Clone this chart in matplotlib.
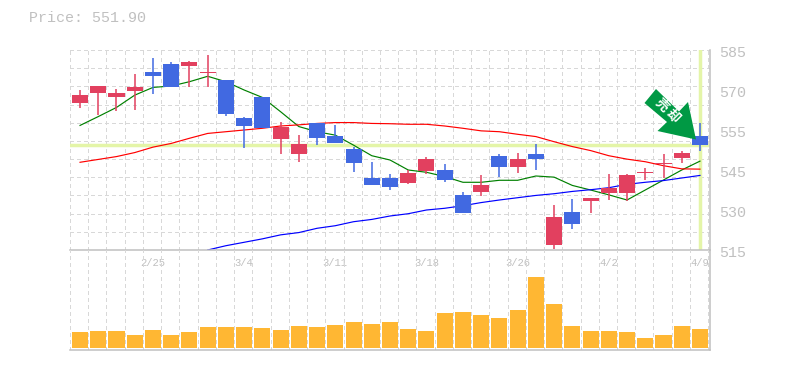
import matplotlib
matplotlib.use('Agg')
import matplotlib.pyplot as plt
import numpy as np
from matplotlib.patches import Polygon
from matplotlib.transforms import Affine2D

# Candles
opens = [566.4, 570.0, 568.5, 570.6, 577.3, 580.1, 579.4, 576.9, 574.5, 561.2, 568.5, 553.8,
         548.6, 559.4, 554.9, 550.3, 540.2, 540.2, 538.4, 542.6, 543.0, 534.2, 535.3, 547.9,
         544.0, 548.6, 516.8, 528.3, 532.2, 535.0, 535.0, 541.9, 545.1, 547.2, 554.9]
closes = [569.2, 572.4, 570.0, 572.0, 575.9, 572.0, 580.8, 577.3, 562.6, 558.4, 557.7, 558.0,
          552.1, 554.2, 552.4, 545.4, 537.8, 537.0, 541.9, 546.8, 539.5, 527.9, 537.8, 544.0,
          546.8, 546.8, 526.6, 524.1, 533.2, 536.7, 541.2, 542.3, 545.4, 549.0, 551.9]
highs = [571.0, 572.4, 571.3, 576.6, 582.2, 580.8, 581.1, 583.2, 574.5, 561.5, 568.5, 559.8,
         555.2, 559.4, 558.8, 551.0, 545.8, 541.6, 543.0, 547.5, 545.1, 535.3, 541.2, 548.6,
         549.0, 552.1, 530.8, 532.8, 533.2, 541.6, 541.6, 543.7, 548.6, 549.6, 559.4]
lows = [564.7, 562.1, 563.6, 564.0, 569.6, 572.0, 572.0, 572.0, 561.9, 550.7, 557.7, 548.6,
        545.8, 551.8, 552.4, 542.3, 537.8, 536.0, 538.1, 541.6, 538.8, 527.9, 533.9, 540.5,
        541.9, 543.0, 515.3, 522.3, 527.9, 532.5, 532.1, 539.5, 540.2, 545.4, 549.6]

# Moving averages
ma_short = [558.6, 561.7, 564.9, 569.2, 571.9, 572.4, 573.9, 575.8, 573.9, 571.0, 568.4, 563.4,
            558.2, 556.4, 555.2, 551.7, 548.0, 546.5, 543.0, 542.2, 540.7, 538.7, 538.7, 539.4,
            539.4, 540.9, 540.5, 537.6, 536.0, 534.3, 532.5, 536.0, 539.5, 543.0, 546.1]
ma_mid = [545.7, 546.7, 547.7, 549.1, 551.0, 552.3, 554.1, 555.8, 556.4, 557.0, 557.6, 558.4,
          558.8, 559.3, 559.6, 559.6, 559.3, 559.2, 559.0, 559.0, 558.4, 557.6, 556.7, 556.4,
          555.5, 554.7, 552.9, 551.2, 549.8, 548.0, 546.8, 545.9, 544.5, 543.4, 543.3]
ma_long = [515.0, 516.5, 517.7, 518.9, 520.3, 521.1, 522.6, 523.5, 524.9, 525.7, 526.9, 527.7,
           529.0, 529.6, 530.5, 531.6, 532.5, 533.3, 534.1, 534.7, 535.5, 536.1, 536.8, 538.0,
           538.7, 539.3, 540.2, 541.1]
ma_long_start = 7

volume = [15.7, 16.7, 16.7, 12.7, 17.7, 12.7, 15.7, 20.7, 20.7, 20.7, 19.7, 17.7, 21.7, 20.7,
          22.7, 25.7, 23.7, 25.7, 19, 17, 35, 36, 33, 30, 38, 71, 44, 22, 17, 17, 16, 10, 13, 22, 19]

price_now = 551.9
date_pos = [4, 9, 14, 19, 24, 29, 34]
date_labels = ['2/25', '3/4', '3/11', '3/18', '3/26', '4/2', '4/9']
price_pos = [515, 529, 543, 557, 571, 585]
price_labels = ['515', '530', '545', '555', '570', '585']

W, H = 785, 370
GRAY = '#c0c0c0'
GRID = '#d8d8d8'
HILITE = '#e4f5a8'
RED = '#e2405f'
BLUE = '#4169e1'
MONO = 'Liberation Mono'

fig = plt.figure(figsize=(W / 100, H / 100), dpi=100, facecolor='white')
ax = fig.add_axes([70 / W, 1 - 250 / H, 640 / W, 200 / H])
axv = fig.add_axes([70 / W, 1 - 350 / H, 640 / W, 100 / H])

x = np.arange(len(opens))
grid_x = np.arange(36) - 0.55

for a in (ax, axv):
    a.set_xlim(-0.55, 34.55)
    a.set_xticks(grid_x, minor=True)
    a.tick_params(which='both', length=0)
    a.grid(which='minor', axis='x', color=GRID, ls=(0, (3, 3)), lw=0.72, antialiased=False)
    a.set_axisbelow(True)
    a.patch.set_alpha(0)
    for s in ('left', 'top'):
        a.spines[s].set_visible(False)
    for s in ('right', 'bottom'):
        a.spines[s].set_color(GRAY)
        a.spines[s].set_linewidth(1.1)

# main panel
ax.set_ylim(515, 585)
ax.set_yticks(np.linspace(515, 585, 12), minor=True)
ax.grid(which='minor', axis='y', color=GRID, ls=(0, (3, 3)), lw=0.72, antialiased=False)
ax.set_yticks([])
ax.set_xticks(date_pos)
ax.set_xticklabels(date_labels, family=MONO, fontsize=7.6, color=GRAY)
ax.tick_params(axis='x', which='major', pad=5.5)

ax.axhline(price_now, color=HILITE, lw=2.5, zorder=1)
ax.axvline(x[-1], ymin=0.005, ymax=0.995, color=HILITE, lw=2.5, zorder=1)

ax.plot(x, ma_short, color='#008000', lw=0.85)
ax.plot(x, ma_mid, color='#ff0000', lw=0.85)
ax.plot(x[ma_long_start:], ma_long, color='#0000ff', lw=0.85)

for i in x:
    c = RED if closes[i] >= opens[i] else BLUE
    ax.vlines(i, lows[i], highs[i], color=c, lw=1.1, zorder=3)
    ax.bar(i, abs(closes[i] - opens[i]), bottom=min(opens[i], closes[i]), width=0.88,
           color=c, zorder=3)

for val, lab in zip(price_pos, price_labels):
    ax.annotate(lab, (1, val), xycoords=('axes fraction', 'data'), xytext=(6.5, -2),
                textcoords='offset points', family=MONO, fontsize=10.8, color=GRAY,
                va='center', ha='left', annotation_clip=False)

# volume panel
axv.set_ylim(-2.3, 97.7)
axv.set_yticks([])
axv.set_xticks([])
axv.bar(x, volume, width=0.88, color='#ffb733', zorder=3)

fig.text(29 / W, 1 - 18 / H, 'Price: 551.90', family=MONO, fontsize=10.8, color=GRAY,
         va='center', ha='left')

# arrow callout, placed in pixels
px = Affine2D().scale(1 / W, -1 / H).translate(0, 1) + fig.transFigure
arrow_pts = [(656, 89), (679, 111.5), (688, 102), (696, 139.5), (657.5, 131), (667, 122), (644.5, 103)]
fig.add_artist(Polygon(arrow_pts, closed=True, transform=px, facecolor='#009944', edgecolor='none', zorder=5))
for tx, ty, ch in [(662, 105, '売'), (672.5, 116.5, '却')]:
    fig.text(tx / W, 1 - ty / H, ch, family=['Noto Sans CJK JP', 'DejaVu Sans'], fontsize=9.4, weight='bold',
             color='white', rotation=-45, rotation_mode='anchor', ha='center', va='center', zorder=6)

plt.savefig('out.png', dpi=100)
